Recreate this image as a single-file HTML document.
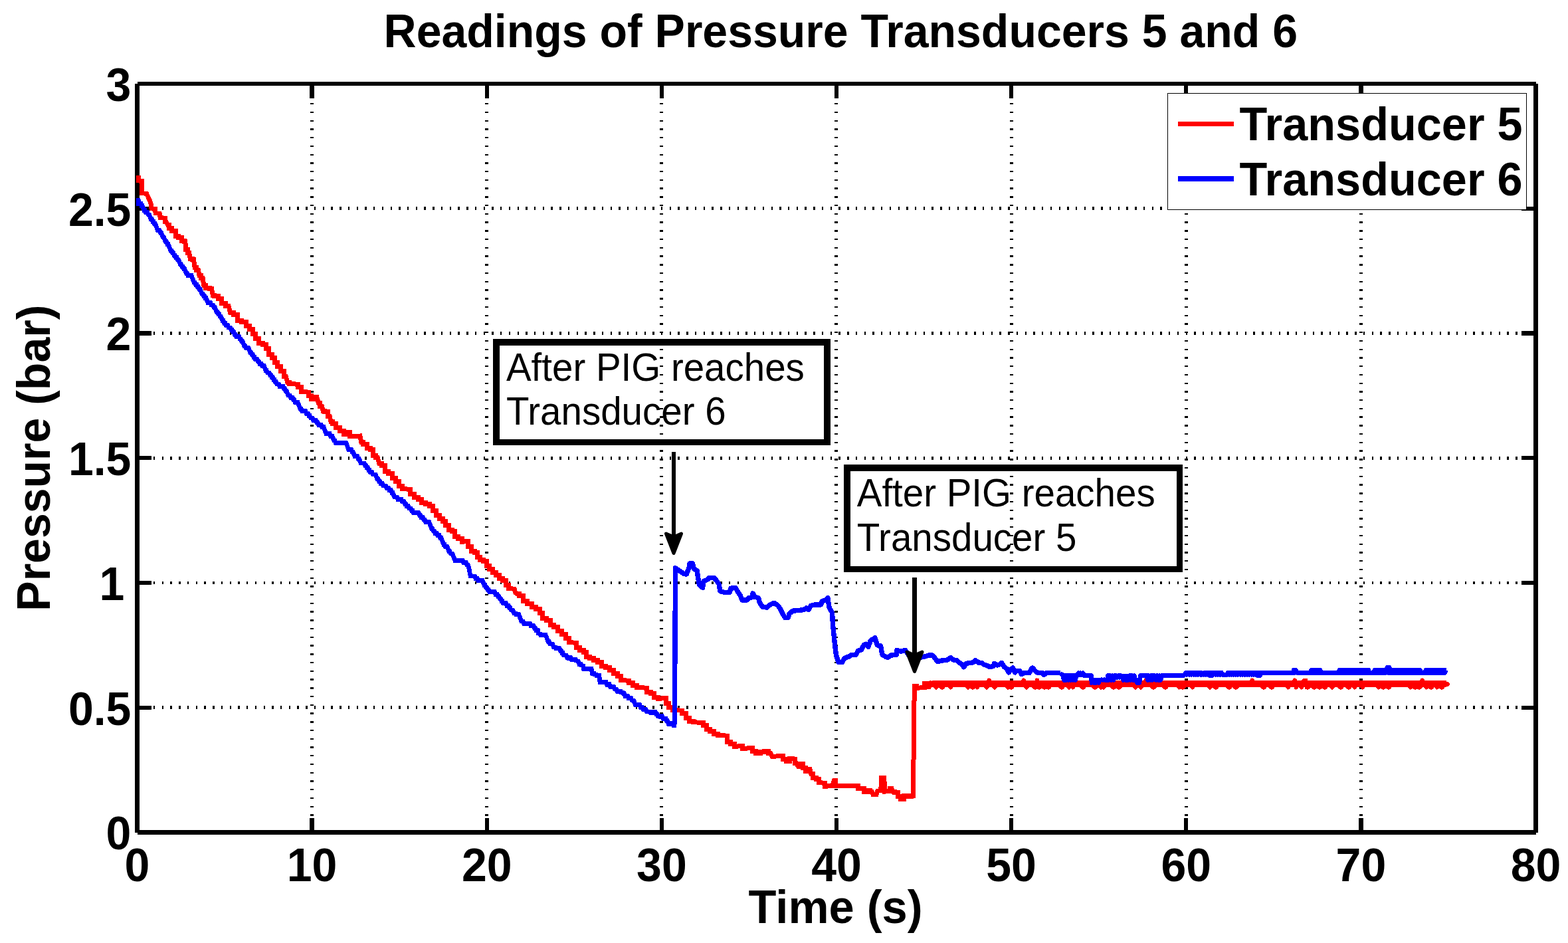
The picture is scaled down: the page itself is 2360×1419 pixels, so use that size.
<!DOCTYPE html>
<html lang="en"><head><meta charset="utf-8"><title>Readings of Pressure Transducers 5 and 6</title>
<style>html,body{margin:0;padding:0;background:#fff;}body{width:2360px;height:1419px;overflow:hidden;}svg{display:block;}text{font-family:'Liberation Sans', sans-serif;fill:#000;}.b{font-weight:bold;font-size:68px;}.n{font-size:56.5px;}</style></head><body>
<svg width="2360" height="1419" viewBox="0 0 2360 1419">
<rect x="0" y="0" width="2360" height="1419" fill="#fff"/>
<g stroke="#000" stroke-width="5" stroke-dasharray="2.4 10.34" fill="none" shape-rendering="crispEdges">
<line x1="469.50" y1="1253.13" x2="469.50" y2="126.0"/>
<line x1="732.50" y1="1253.13" x2="732.50" y2="126.0"/>
<line x1="995.50" y1="1253.13" x2="995.50" y2="126.0"/>
<line x1="1258.50" y1="1253.13" x2="1258.50" y2="126.0"/>
<line x1="1522.50" y1="1253.13" x2="1522.50" y2="126.0"/>
<line x1="1785.50" y1="1253.13" x2="1785.50" y2="126.0"/>
<line x1="2048.50" y1="1253.13" x2="2048.50" y2="126.0"/>
</g>
<g stroke="#000" stroke-width="5" stroke-dasharray="2.4 10.334" fill="none" shape-rendering="crispEdges">
<line x1="205.5" y1="1064.50" x2="2311.5" y2="1064.50"/>
<line x1="205.5" y1="877.00" x2="2311.5" y2="877.00" stroke-width="4"/>
<line x1="205.5" y1="689.50" x2="2311.5" y2="689.50"/>
<line x1="205.5" y1="501.50" x2="2311.5" y2="501.50"/>
<line x1="205.5" y1="313.50" x2="2311.5" y2="313.50"/>
</g>
<g stroke="#000" stroke-width="6.4" fill="none" shape-rendering="crispEdges">
<line x1="469.62" y1="1252.5" x2="469.62" y2="1231.0"/>
<line x1="469.62" y1="126.0" x2="469.62" y2="147.5"/>
<line x1="732.75" y1="1252.5" x2="732.75" y2="1231.0"/>
<line x1="732.75" y1="126.0" x2="732.75" y2="147.5"/>
<line x1="995.88" y1="1252.5" x2="995.88" y2="1231.0"/>
<line x1="995.88" y1="126.0" x2="995.88" y2="147.5"/>
<line x1="1259.00" y1="1252.5" x2="1259.00" y2="1231.0"/>
<line x1="1259.00" y1="126.0" x2="1259.00" y2="147.5"/>
<line x1="1522.12" y1="1252.5" x2="1522.12" y2="1231.0"/>
<line x1="1522.12" y1="126.0" x2="1522.12" y2="147.5"/>
<line x1="1785.25" y1="1252.5" x2="1785.25" y2="1231.0"/>
<line x1="1785.25" y1="126.0" x2="1785.25" y2="147.5"/>
<line x1="2048.38" y1="1252.5" x2="2048.38" y2="1231.0"/>
<line x1="2048.38" y1="126.0" x2="2048.38" y2="147.5"/>
<line x1="206.5" y1="1064.75" x2="228.0" y2="1064.75"/>
<line x1="2311.5" y1="1064.75" x2="2290.0" y2="1064.75"/>
<line x1="206.5" y1="877.00" x2="228.0" y2="877.00"/>
<line x1="2311.5" y1="877.00" x2="2290.0" y2="877.00"/>
<line x1="206.5" y1="689.25" x2="228.0" y2="689.25"/>
<line x1="2311.5" y1="689.25" x2="2290.0" y2="689.25"/>
<line x1="206.5" y1="501.50" x2="228.0" y2="501.50"/>
<line x1="2311.5" y1="501.50" x2="2290.0" y2="501.50"/>
<line x1="206.5" y1="313.75" x2="228.0" y2="313.75"/>
<line x1="2311.5" y1="313.75" x2="2290.0" y2="313.75"/>
</g>
<path d="M206.5,126.0H2311.5M2311.5,126.0V1252.5M2311.5,1252.5H206.5M206.5,1252.5V126.0" fill="none" stroke="#000" stroke-width="6.8" stroke-linecap="butt" shape-rendering="crispEdges"/>
<path d="M208.0,263.7 L208.0,271.9 L213.1,272.5 L213.4,290.8 L220.5,291.2 L223.2,296.9 L225.9,303.1 L227.6,307.8 L228.0,313.9 L233.4,314.6 L234.1,320.7 L240.2,321.4 L241.2,327.5 L246.3,328.1 L248.0,328.1 L248.0,333.6 L249.7,333.6 L252.5,338.3 L254.2,338.3 L254.2,343.4 L255.9,343.4 L258.9,343.4 L258.9,347.6 L261.9,347.6 L264.0,347.6 L264.0,355.3 L266.1,355.3 L268.6,355.3 L268.6,357.8 L271.2,357.8 L273.3,357.8 L273.3,362.0 L275.4,362.0 L277.1,362.0 L277.1,363.7 L278.8,363.7 L279.7,375.6 L282.2,375.6 L282.2,380.7 L284.7,380.7 L286.4,389.2 L289.0,389.2 L289.0,390.8 L291.5,390.8 L293.2,402.7 L295.8,402.7 L295.8,406.1 L298.3,406.1 L300.0,414.6 L302.5,414.6 L302.5,418.0 L305.1,418.0 L306.8,429.8 L309.3,429.8 L309.3,433.2 L311.9,433.2 L315.3,433.2 L315.3,434.9 L318.6,434.9 L320.3,444.2 L322.9,444.2 L322.9,445.9 L325.4,445.9 L328.8,445.9 L328.8,449.3 L332.2,449.3 L333.9,449.3 L333.9,456.9 L335.6,456.9 L339.8,456.9 L339.8,460.3 L344.1,460.3 L346.6,470.5 L347.1,470.5 L351.4,470.5 L351.4,473.1 L355.6,473.1 L357.7,473.1 L357.7,482.4 L359.8,482.4 L363.6,482.4 L363.6,484.9 L367.5,484.9 L370.0,484.9 L370.0,490.8 L372.5,490.8 L375.1,490.8 L375.1,495.9 L377.6,495.9 L380.2,495.9 L380.2,502.7 L382.7,502.7 L384.8,502.7 L384.8,509.5 L386.9,509.5 L389.9,509.5 L389.9,516.3 L392.9,516.3 L395.4,516.3 L395.4,518.0 L398.0,518.0 L400.5,518.0 L400.5,524.7 L403.1,524.7 L404.7,524.7 L404.7,533.2 L406.4,533.2 L409.0,533.2 L409.0,538.3 L411.5,538.3 L413.2,538.3 L413.2,545.1 L414.9,545.1 L417.5,545.1 L417.5,551.9 L420.0,551.9 L422.5,551.9 L422.5,558.6 L425.1,558.6 L427.6,558.6 L427.6,566.3 L430.2,566.3 L432.7,575.6 L435.7,575.6 L435.7,577.3 L438.6,577.3 L445.4,578.1 L448.0,578.1 L448.0,582.4 L450.5,582.4 L453.1,582.4 L453.1,589.2 L455.6,589.2 L463.2,590.0 L464.9,590.0 L464.9,595.9 L466.6,595.9 L468.7,595.9 L468.7,600.2 L470.8,600.2 L473.8,600.2 L473.8,597.6 L476.8,597.6 L479.3,606.1 L481.9,606.1 L481.9,611.2 L484.4,611.2 L486.1,618.0 L488.6,618.0 L488.6,619.7 L491.2,619.7 L493.7,619.7 L493.7,626.4 L496.3,626.4 L498.0,634.9 L500.5,634.9 L500.5,637.5 L503.1,637.5 L505.6,637.5 L505.6,643.4 L508.1,643.4 L511.5,643.4 L511.5,648.5 L514.9,648.5 L517.5,648.5 L517.5,653.6 L520.0,653.6 L522.1,653.6 L522.1,650.2 L524.2,650.2 L526.4,650.2 L526.4,656.9 L528.5,656.9 L536.9,656.9 L542.0,656.1 L543.7,665.4 L546.7,665.4 L546.7,668.8 L549.7,668.8 L552.6,668.8 L552.6,674.7 L555.6,674.7 L557.3,674.7 L557.3,676.9 L559.0,676.9 L561.1,676.9 L561.1,685.4 L563.2,685.4 L565.8,685.4 L565.8,688.8 L568.3,688.8 L570.8,697.3 L574.2,697.3 L574.2,700.7 L577.6,700.7 L579.3,700.7 L579.3,709.2 L581.0,709.2 L584.4,709.2 L584.4,712.5 L587.8,712.5 L590.3,712.5 L590.3,719.3 L592.9,719.3 L595.4,719.3 L595.4,724.4 L598.0,724.4 L600.5,724.4 L600.5,731.2 L603.1,731.2 L605.6,731.2 L605.6,735.4 L608.1,735.4 L614.9,736.3 L617.5,736.3 L617.5,743.1 L620.0,743.1 L623.4,743.1 L623.4,748.1 L626.8,748.1 L629.3,748.1 L629.3,751.5 L631.9,751.5 L634.4,751.5 L634.4,756.6 L636.9,756.6 L640.3,756.6 L640.3,758.3 L643.7,758.3 L646.3,758.3 L646.3,761.7 L648.8,761.7 L651.4,761.7 L651.4,768.5 L653.9,768.5 L656.0,768.5 L656.0,775.3 L658.1,775.3 L661.1,775.3 L661.1,780.3 L664.1,780.3 L666.6,780.3 L666.6,784.6 L669.2,784.6 L670.8,784.6 L670.8,790.5 L672.5,790.5 L675.1,790.5 L675.1,797.3 L677.6,797.3 L680.2,797.3 L680.2,799.0 L682.7,799.0 L684.4,799.0 L684.4,807.5 L686.1,807.5 L689.5,807.5 L689.5,810.0 L692.9,810.0 L695.4,810.0 L695.4,815.1 L698.0,815.1 L703.1,814.2 L704.7,814.2 L704.7,822.7 L706.4,822.7 L709.0,822.7 L709.0,829.5 L711.5,829.5 L714.1,829.5 L714.1,831.2 L716.6,831.2 L718.3,831.2 L718.3,838.0 L720.0,838.0 L722.5,838.0 L722.5,842.2 L725.1,842.2 L727.6,842.2 L727.6,844.7 L730.2,844.7 L732.7,844.7 L732.7,851.5 L735.3,851.5 L736.9,851.5 L736.9,856.6 L738.6,856.6 L741.2,856.6 L741.2,861.7 L743.7,861.7 L746.3,861.7 L746.3,865.1 L748.8,865.1 L751.4,865.1 L751.4,870.2 L753.9,870.2 L756.4,870.2 L756.4,873.6 L759.0,873.6 L761.1,873.6 L761.1,880.3 L763.2,880.3 L765.3,880.3 L765.3,885.4 L767.5,885.4 L774.2,886.3 L775.9,892.2 L778.1,893.6 L781.5,893.6 L781.5,896.9 L784.9,896.9 L787.0,896.9 L787.0,904.6 L789.2,904.6 L793.4,904.6 L793.4,908.0 L797.6,908.0 L800.2,908.0 L800.2,913.9 L802.7,913.9 L806.1,913.9 L806.1,916.4 L809.5,916.4 L812.0,916.4 L812.0,922.4 L814.6,922.4 L816.3,922.4 L816.3,930.0 L818.0,930.0 L822.2,930.0 L822.2,933.4 L826.4,933.4 L828.1,933.4 L828.1,940.2 L829.8,940.2 L833.2,940.2 L833.2,943.6 L836.6,943.6 L839.2,943.6 L839.2,949.5 L841.7,949.5 L845.1,949.5 L845.1,954.6 L848.5,954.6 L851.0,954.6 L851.0,960.5 L853.6,960.5 L856.1,960.5 L856.1,966.4 L858.6,966.4 L865.4,967.3 L867.5,967.3 L867.5,974.9 L869.7,974.9 L872.6,974.9 L872.6,978.3 L875.6,978.3 L878.1,978.3 L878.1,981.7 L880.7,981.7 L882.4,981.7 L882.4,988.5 L884.1,988.5 L887.5,988.5 L887.5,990.2 L890.8,990.2 L893.4,990.2 L893.4,993.6 L895.9,993.6 L899.3,993.6 L899.3,996.9 L902.7,996.9 L905.3,996.9 L905.3,1002.0 L907.8,1002.0 L911.2,1002.0 L911.2,1004.6 L914.6,1004.6 L917.1,1004.6 L917.1,1008.8 L919.7,1008.8 L923.1,1008.8 L923.1,1013.1 L926.4,1013.1 L929.8,1013.1 L929.8,1017.3 L933.2,1017.3 L934.9,1017.3 L934.9,1023.2 L936.6,1023.2 L943.4,1024.1 L946.8,1024.1 L946.8,1027.5 L950.2,1027.5 L952.7,1027.5 L952.7,1031.7 L955.3,1031.7 L958.6,1031.7 L958.6,1034.2 L962.0,1034.2 L970.5,1035.1 L973.1,1035.1 L973.1,1041.9 L975.6,1041.9 L979.0,1041.9 L979.0,1043.6 L982.4,1043.6 L984.9,1043.6 L984.9,1049.5 L987.5,1049.5 L990.8,1049.5 L990.8,1051.2 L994.2,1051.2 L1001.0,1050.3 L1002.7,1050.3 L1002.7,1058.0 L1004.4,1058.0 L1006.9,1058.0 L1006.9,1064.7 L1009.5,1064.7 L1012.0,1064.7 L1012.0,1068.1 L1014.6,1068.1 L1023.1,1069.0 L1026.4,1069.0 L1026.4,1073.2 L1029.8,1073.2 L1032.4,1073.2 L1032.4,1080.0 L1034.9,1080.0 L1037.5,1080.0 L1037.5,1085.1 L1040.0,1085.1 L1043.4,1085.1 L1043.4,1086.8 L1046.8,1086.8 L1055.3,1087.6 L1058.6,1087.6 L1058.6,1091.9 L1062.0,1091.9 L1063.7,1091.9 L1063.7,1097.8 L1065.4,1097.8 L1068.8,1097.8 L1068.8,1100.3 L1072.2,1100.3 L1074.7,1100.3 L1074.7,1104.6 L1077.3,1104.6 L1080.7,1104.6 L1080.7,1106.3 L1084.1,1106.3 L1092.5,1107.1 L1094.7,1107.1 L1094.7,1116.6 L1096.9,1116.6 L1099.5,1116.6 L1099.5,1119.2 L1102.0,1119.2 L1105.0,1119.2 L1105.0,1123.4 L1108.0,1123.4 L1113.9,1122.5 L1117.3,1122.5 L1117.3,1126.8 L1120.7,1126.8 L1124.9,1125.9 L1130.8,1125.9 L1132.5,1125.9 L1132.5,1130.2 L1134.2,1130.2 L1137.6,1130.2 L1137.6,1133.6 L1141.0,1133.6 L1144.4,1133.6 L1144.4,1131.9 L1147.8,1131.9 L1150.8,1131.9 L1150.8,1130.2 L1153.7,1130.2 L1156.7,1130.2 L1156.7,1133.6 L1159.7,1133.6 L1162.2,1138.6 L1169.8,1137.8 L1176.6,1137.8 L1178.3,1137.8 L1178.3,1142.0 L1180.0,1142.0 L1183.4,1142.0 L1183.4,1145.4 L1186.8,1145.4 L1188.5,1145.4 L1188.5,1141.2 L1190.2,1141.2 L1195.3,1142.0 L1196.9,1142.0 L1196.9,1148.8 L1198.6,1148.8 L1201.2,1153.1 L1203.3,1153.1 L1203.3,1149.7 L1205.4,1149.7 L1208.0,1149.7 L1208.0,1155.6 L1210.5,1155.6 L1212.2,1155.6 L1212.2,1160.7 L1213.9,1160.7 L1216.4,1160.7 L1216.4,1157.3 L1219.0,1157.3 L1220.7,1164.1 L1223.2,1164.1 L1223.2,1170.8 L1225.8,1170.8 L1228.3,1170.8 L1228.3,1172.5 L1230.8,1172.5 L1232.5,1172.5 L1232.5,1177.6 L1234.2,1177.6 L1241.0,1178.5 L1241.0,1183.6 L1247.8,1182.7 L1252.9,1182.7 L1255.4,1174.2 L1257.1,1174.2 L1257.1,1182.7 L1258.8,1182.7 L1266.4,1182.7 L1274.9,1182.7 L1283.4,1182.7 L1290.2,1182.7 L1291.9,1182.7 L1291.9,1186.9 L1293.6,1186.9 L1300.3,1186.9 L1300.3,1191.2 L1303.7,1191.2 L1303.7,1189.5 L1307.1,1189.5 L1309.7,1189.5 L1309.7,1191.2 L1312.2,1191.2 L1313.9,1195.4 L1319.0,1195.4 L1320.7,1190.3 L1325.8,1189.5 L1326.6,1170.8 L1330.8,1170.8 L1331.7,1191.2 L1337.6,1190.3 L1339.7,1190.3 L1339.7,1186.1 L1341.9,1186.1 L1344.4,1191.2 L1346.9,1191.2 L1346.9,1192.9 L1349.5,1192.9 L1351.2,1192.9 L1351.2,1198.0 L1352.9,1198.0 L1355.4,1198.0 L1355.4,1202.2 L1358.0,1202.2 L1360.1,1202.2 L1360.1,1197.1 L1362.2,1197.1 L1365.2,1197.1 L1365.2,1198.8 L1368.1,1198.8 L1371.1,1198.8 L1371.1,1197.1 L1374.1,1197.1 L1374.6,1172.5 L1375.3,1121.7 L1375.8,1070.8 L1376.3,1032.7 L1379.0,1032.7 L1379.0,1035.3 L1381.7,1035.3 L1388.5,1034.4 L1391.0,1034.4 L1391.0,1028.5 L1393.6,1028.5 L1396.1,1028.5 L1396.1,1033.6 L1398.6,1033.6" fill="none" stroke="#f00" stroke-width="7" stroke-linejoin="miter" stroke-miterlimit="2" stroke-linecap="butt" shape-rendering="crispEdges"/>
<path d="M1398.6,1033.6 L1401.0,1027.7 L1403.0,1030.8 L1405.0,1027.7 L1407.0,1030.8 L1409.0,1034.0 L1411.0,1030.8 L1413.0,1027.7 L1415.0,1030.8 L1417.0,1034.0 L1419.0,1034.0 L1421.0,1027.7 L1423.0,1030.8 L1425.0,1027.7 L1427.0,1030.8 L1429.0,1027.7 L1431.0,1034.0 L1433.0,1027.7 L1435.0,1030.8 L1437.0,1027.7 L1439.0,1030.8 L1441.0,1027.7 L1443.0,1030.8 L1445.0,1027.7 L1447.0,1030.8 L1449.0,1027.7 L1451.0,1030.8 L1453.0,1027.7 L1455.0,1030.8 L1457.0,1034.0 L1459.0,1030.8 L1461.0,1027.7 L1463.0,1034.0 L1465.0,1034.0 L1467.0,1030.8 L1469.0,1027.7 L1471.0,1034.0 L1473.0,1027.7 L1475.0,1030.8 L1477.0,1027.7 L1479.0,1030.8 L1481.0,1027.7 L1483.0,1030.8 L1485.0,1034.0 L1487.0,1030.8 L1489.0,1024.0 L1491.0,1030.8 L1493.0,1027.7 L1495.0,1030.8 L1497.0,1034.0 L1499.0,1030.8 L1501.0,1027.7 L1503.0,1030.8 L1505.0,1027.7 L1507.0,1030.8 L1509.0,1027.7 L1511.0,1030.8 L1513.0,1027.7 L1515.0,1030.8 L1517.0,1034.0 L1519.0,1030.8 L1521.0,1034.0 L1523.0,1034.0 L1525.0,1027.7 L1527.0,1030.8 L1529.0,1027.7 L1531.0,1030.8 L1533.0,1027.7 L1535.0,1030.8 L1537.0,1027.7 L1539.0,1030.8 L1541.0,1024.0 L1543.0,1030.8 L1545.0,1034.0 L1547.0,1030.8 L1549.0,1027.7 L1551.0,1030.8 L1553.0,1027.7 L1555.0,1030.8 L1557.0,1034.0 L1559.0,1034.0 L1561.0,1024.0 L1563.0,1034.0 L1565.0,1034.0 L1567.0,1030.8 L1569.0,1027.7 L1571.0,1034.0 L1573.0,1034.0 L1575.0,1030.8 L1577.0,1034.0 L1579.0,1034.0 L1581.0,1027.7 L1583.0,1030.8 L1585.0,1027.7 L1587.0,1030.8 L1589.0,1027.7 L1591.0,1030.8 L1593.0,1027.7 L1595.0,1030.8 L1597.0,1034.0 L1599.0,1034.0 L1601.0,1027.7 L1603.0,1030.8 L1605.0,1027.7 L1607.0,1030.8 L1609.0,1034.0 L1611.0,1030.8 L1613.0,1027.7 L1615.0,1034.0 L1617.0,1027.7 L1619.0,1030.8 L1621.0,1027.7 L1623.0,1030.8 L1625.0,1027.7 L1627.0,1030.8 L1629.0,1034.0 L1631.0,1034.0 L1633.0,1027.7 L1635.0,1030.8 L1637.0,1027.7 L1639.0,1030.8 L1641.0,1027.7 L1643.0,1030.8 L1645.0,1027.7 L1647.0,1034.0 L1649.0,1034.0 L1651.0,1030.8 L1653.0,1027.7 L1655.0,1030.8 L1657.0,1034.0 L1659.0,1030.8 L1661.0,1034.0 L1663.0,1030.8 L1665.0,1027.7 L1667.0,1030.8 L1669.0,1027.7 L1671.0,1030.8 L1673.0,1027.7 L1675.0,1034.0 L1677.0,1034.0 L1679.0,1030.8 L1681.0,1027.7 L1683.0,1034.0 L1685.0,1034.0 L1687.0,1030.8 L1689.0,1027.7 L1691.0,1030.8 L1693.0,1027.7 L1695.0,1030.8 L1697.0,1027.7 L1699.0,1030.8 L1701.0,1027.7 L1703.0,1030.8 L1705.0,1027.7 L1707.0,1030.8 L1709.0,1034.0 L1711.0,1030.8 L1713.0,1027.7 L1715.0,1030.8 L1717.0,1034.0 L1719.0,1030.8 L1721.0,1027.7 L1723.0,1030.8 L1725.0,1024.0 L1727.0,1030.8 L1729.0,1027.7 L1731.0,1030.8 L1733.0,1027.7 L1735.0,1034.0 L1737.0,1034.0 L1739.0,1030.8 L1741.0,1027.7 L1743.0,1030.8 L1745.0,1027.7 L1747.0,1030.8 L1749.0,1027.7 L1751.0,1030.8 L1753.0,1034.0 L1755.0,1034.0 L1757.0,1027.7 L1759.0,1030.8 L1761.0,1027.7 L1763.0,1030.8 L1765.0,1027.7 L1767.0,1030.8 L1769.0,1027.7 L1771.0,1030.8 L1773.0,1027.7 L1775.0,1034.0 L1777.0,1027.7 L1779.0,1034.0 L1781.0,1034.0 L1783.0,1030.8 L1785.0,1027.7 L1787.0,1030.8 L1789.0,1027.7 L1791.0,1030.8 L1793.0,1027.7 L1795.0,1034.0 L1797.0,1027.7 L1799.0,1030.8 L1801.0,1027.7 L1803.0,1030.8 L1805.0,1027.7 L1807.0,1030.8 L1809.0,1027.7 L1811.0,1030.8 L1813.0,1027.7 L1815.0,1030.8 L1817.0,1027.7 L1819.0,1030.8 L1821.0,1034.0 L1823.0,1030.8 L1825.0,1027.7 L1827.0,1030.8 L1829.0,1034.0 L1831.0,1034.0 L1833.0,1027.7 L1835.0,1030.8 L1837.0,1027.7 L1839.0,1030.8 L1841.0,1027.7 L1843.0,1030.8 L1845.0,1027.7 L1847.0,1030.8 L1849.0,1034.0 L1851.0,1034.0 L1853.0,1027.7 L1855.0,1030.8 L1857.0,1027.7 L1859.0,1034.0 L1861.0,1034.0 L1863.0,1030.8 L1865.0,1027.7 L1867.0,1030.8 L1869.0,1027.7 L1871.0,1030.8 L1873.0,1027.7 L1875.0,1030.8 L1877.0,1027.7 L1879.0,1030.8 L1881.0,1027.7 L1883.0,1030.8 L1885.0,1024.0 L1887.0,1030.8 L1889.0,1027.7 L1891.0,1030.8 L1893.0,1027.7 L1895.0,1030.8 L1897.0,1027.7 L1899.0,1030.8 L1901.0,1034.0 L1903.0,1034.0 L1905.0,1027.7 L1907.0,1030.8 L1909.0,1027.7 L1911.0,1030.8 L1913.0,1034.0 L1915.0,1034.0 L1917.0,1027.7 L1919.0,1030.8 L1921.0,1027.7 L1923.0,1030.8 L1925.0,1027.7 L1927.0,1030.8 L1929.0,1027.7 L1931.0,1030.8 L1933.0,1027.7 L1935.0,1030.8 L1937.0,1027.7 L1939.0,1034.0 L1941.0,1027.7 L1943.0,1030.8 L1945.0,1027.7 L1947.0,1030.8 L1949.0,1024.0 L1951.0,1034.0 L1953.0,1027.7 L1955.0,1030.8 L1957.0,1027.7 L1959.0,1034.0 L1961.0,1027.7 L1963.0,1024.0 L1965.0,1024.0 L1967.0,1034.0 L1969.0,1034.0 L1971.0,1030.8 L1973.0,1027.7 L1975.0,1030.8 L1977.0,1034.0 L1979.0,1034.0 L1981.0,1027.7 L1983.0,1030.8 L1985.0,1034.0 L1987.0,1034.0 L1989.0,1027.7 L1991.0,1030.8 L1993.0,1034.0 L1995.0,1034.0 L1997.0,1027.7 L1999.0,1030.8 L2001.0,1027.7 L2003.0,1030.8 L2005.0,1034.0 L2007.0,1030.8 L2009.0,1027.7 L2011.0,1030.8 L2013.0,1027.7 L2015.0,1030.8 L2017.0,1034.0 L2019.0,1034.0 L2021.0,1027.7 L2023.0,1030.8 L2025.0,1027.7 L2027.0,1030.8 L2029.0,1034.0 L2031.0,1034.0 L2033.0,1027.7 L2035.0,1030.8 L2037.0,1027.7 L2039.0,1034.0 L2041.0,1027.7 L2043.0,1030.8 L2045.0,1027.7 L2047.0,1030.8 L2049.0,1027.7 L2051.0,1034.0 L2053.0,1027.7 L2055.0,1030.8 L2057.0,1027.7 L2059.0,1030.8 L2061.0,1027.7 L2063.0,1030.8 L2065.0,1027.7 L2067.0,1030.8 L2069.0,1027.7 L2071.0,1030.8 L2073.0,1027.7 L2075.0,1034.0 L2077.0,1027.7 L2079.0,1030.8 L2081.0,1034.0 L2083.0,1034.0 L2085.0,1027.7 L2087.0,1030.8 L2089.0,1034.0 L2091.0,1034.0 L2093.0,1027.7 L2095.0,1030.8 L2097.0,1027.7 L2099.0,1030.8 L2101.0,1027.7 L2103.0,1030.8 L2105.0,1027.7 L2107.0,1030.8 L2109.0,1027.7 L2111.0,1030.8 L2113.0,1027.7 L2115.0,1030.8 L2117.0,1027.7 L2119.0,1030.8 L2121.0,1027.7 L2123.0,1034.0 L2125.0,1027.7 L2127.0,1030.8 L2129.0,1034.0 L2131.0,1034.0 L2133.0,1027.7 L2135.0,1034.0 L2137.0,1034.0 L2139.0,1030.8 L2141.0,1024.0 L2143.0,1030.8 L2145.0,1027.7 L2147.0,1034.0 L2149.0,1027.7 L2151.0,1030.8 L2153.0,1034.0 L2155.0,1034.0 L2157.0,1027.7 L2159.0,1030.8 L2161.0,1027.7 L2163.0,1034.0 L2165.0,1027.7 L2167.0,1030.8 L2169.0,1034.0 L2171.0,1034.0 L2173.0,1027.7 L2175.0,1030.8 L2178.2,1029.3" fill="none" stroke="#f00" stroke-width="7" stroke-linejoin="round" stroke-linecap="round" shape-rendering="crispEdges"/>
<path d="M1404,1027.8 H2177.0" fill="none" stroke="#f00" stroke-width="7" stroke-linecap="butt" shape-rendering="crispEdges"/>
<path d="M207.6,302.6 L208.9,302.6 L210.2,306.0 L211.5,306.0 L212.8,309.4 L214.1,309.4 L215.4,312.8 L216.7,316.2 L218.0,316.2 L219.3,319.6 L221.9,319.6 L223.2,323.0 L224.5,323.0 L225.8,326.4 L227.1,329.8 L228.4,329.8 L229.7,333.2 L231.0,333.2 L232.3,336.6 L233.6,336.6 L234.9,340.0 L236.2,343.4 L237.5,346.8 L240.1,346.8 L241.4,350.2 L242.7,350.2 L244.0,353.6 L245.3,357.0 L246.6,357.0 L247.9,360.4 L249.2,363.8 L250.5,363.8 L251.8,367.2 L253.1,367.2 L254.4,370.6 L255.7,374.0 L257.0,377.4 L258.3,377.4 L259.6,380.8 L260.9,380.8 L262.2,384.2 L263.5,384.2 L264.8,387.6 L266.1,387.6 L267.4,391.0 L268.7,391.0 L270.0,394.4 L271.3,397.8 L272.6,397.8 L273.9,401.2 L275.2,401.2 L276.5,404.6 L277.8,404.6 L279.1,408.0 L280.4,411.4 L281.7,411.4 L283.0,414.8 L288.2,414.8 L289.5,418.2 L290.8,421.6 L292.1,425.0 L293.4,425.0 L294.7,428.4 L296.0,428.4 L297.3,431.8 L298.6,431.8 L299.9,435.2 L301.2,435.2 L302.5,438.6 L303.8,442.0 L305.1,442.0 L306.4,445.4 L307.7,445.4 L309.0,448.8 L310.3,448.8 L311.6,452.2 L312.9,455.6 L316.8,455.6 L318.1,459.0 L320.7,459.0 L322.0,462.4 L323.3,462.4 L324.6,465.8 L325.9,469.2 L327.2,469.2 L328.5,472.6 L329.8,472.6 L331.1,476.0 L332.4,476.0 L333.7,479.4 L335.0,482.8 L336.3,482.8 L337.6,486.2 L338.9,486.2 L340.2,489.6 L342.8,489.6 L344.1,493.0 L346.7,493.0 L348.0,496.4 L349.3,496.4 L350.6,499.8 L351.9,499.8 L353.2,503.2 L354.5,503.2 L355.8,506.6 L359.7,506.6 L361.0,510.0 L362.3,510.0 L363.6,513.4 L364.9,513.4 L366.2,516.8 L367.5,520.2 L368.8,520.2 L370.1,523.6 L374.0,523.6 L375.3,527.0 L376.6,530.4 L377.9,530.4 L379.2,533.8 L380.5,533.8 L381.8,537.2 L383.1,537.2 L384.4,540.6 L387.0,540.6 L388.3,544.0 L389.6,544.0 L390.9,547.4 L393.5,547.4 L394.8,550.8 L397.4,550.8 L398.7,554.2 L400.0,557.6 L401.3,557.6 L402.6,561.0 L405.2,561.0 L406.5,564.4 L407.8,564.4 L409.1,567.8 L410.4,567.8 L411.7,571.2 L413.0,571.2 L414.3,574.6 L415.6,574.6 L416.9,578.0 L419.5,578.0 L420.8,581.4 L426.0,581.4 L427.3,584.8 L428.6,584.8 L429.9,588.2 L431.2,588.2 L432.5,591.6 L433.8,595.0 L436.4,595.0 L437.7,598.4 L440.3,598.4 L441.6,601.8 L442.9,601.8 L444.2,605.2 L448.1,605.2 L449.4,608.6 L450.7,612.0 L452.0,615.4 L453.3,615.4 L454.6,618.8 L459.8,618.8 L461.1,622.2 L463.7,622.2 L465.0,625.6 L466.3,625.6 L467.6,629.0 L470.2,629.0 L471.5,632.4 L475.4,632.4 L476.7,635.8 L478.0,635.8 L479.3,639.2 L483.2,639.2 L484.5,642.6 L487.1,642.6 L488.4,646.0 L489.7,649.4 L491.0,652.8 L496.2,652.8 L497.5,656.2 L500.1,656.2 L501.4,659.6 L502.7,663.0 L504.0,663.0 L505.3,666.4 L520.9,666.4 L522.2,669.8 L523.5,673.2 L524.8,676.6 L528.7,676.6 L530.0,680.0 L531.3,680.0 L532.6,683.4 L533.9,686.8 L537.8,686.8 L539.1,690.2 L540.4,690.2 L541.7,693.6 L543.0,697.0 L548.2,697.0 L549.5,700.4 L550.8,700.4 L552.1,703.8 L553.4,703.8 L554.7,707.2 L556.0,707.2 L557.3,710.6 L559.9,710.6 L561.2,714.0 L565.1,714.0 L566.4,717.4 L567.7,720.8 L569.0,720.8 L570.3,724.2 L571.6,724.2 L572.9,727.6 L575.5,727.6 L576.8,731.0 L580.7,731.0 L582.0,734.4 L584.6,734.4 L585.9,737.8 L588.5,737.8 L589.8,741.2 L591.1,741.2 L592.4,744.6 L593.7,748.0 L597.6,748.0 L598.9,751.4 L604.1,751.4 L605.4,754.8 L608.0,754.8 L609.3,758.2 L610.6,758.2 L611.9,761.6 L614.5,761.6 L615.8,765.0 L618.4,765.0 L619.7,768.4 L621.0,768.4 L622.3,771.8 L630.1,771.8 L631.4,775.2 L632.7,775.2 L634.0,778.6 L636.6,778.6 L637.9,782.0 L639.2,782.0 L640.5,785.4 L645.7,785.4 L647.0,788.8 L648.3,792.2 L649.6,795.6 L650.9,795.6 L652.2,799.0 L653.5,799.0 L654.8,802.4 L657.4,802.4 L658.7,805.8 L661.3,805.8 L662.6,809.2 L663.9,809.2 L665.2,812.6 L666.5,816.0 L667.8,819.4 L669.1,819.4 L670.4,822.8 L673.0,822.8 L674.3,826.2 L675.6,829.6 L676.9,829.6 L678.2,833.0 L680.8,833.0 L682.1,836.4 L683.4,839.8 L684.7,843.2 L696.4,843.2 L697.7,846.6 L701.6,846.6 L702.9,850.0 L704.2,850.0 L705.5,853.4 L706.8,860.2 L708.1,867.0 L714.6,867.0 L715.9,870.4 L718.5,870.4 L719.8,873.8 L726.3,873.8 L727.6,877.2 L728.9,880.6 L730.2,880.6 L731.5,884.0 L732.8,884.0 L734.1,887.4 L735.4,887.4 L736.7,890.8 L744.5,890.8 L745.8,894.2 L748.4,894.2 L749.7,897.6 L751.0,897.6 L752.3,901.0 L753.6,901.0 L754.9,904.4 L756.2,904.4 L757.5,907.8 L761.4,907.8 L762.7,911.2 L765.3,911.2 L766.6,914.6 L767.9,914.6 L769.2,918.0 L771.8,918.0 L773.1,921.4 L774.4,924.8 L775.7,921.4 L777.0,924.8 L780.9,924.8 L782.2,928.2 L783.5,931.6 L784.8,935.0 L787.4,935.0 L788.7,938.4 L797.8,938.4 L799.1,941.8 L803.0,941.8 L804.3,945.2 L805.6,945.2 L806.9,948.6 L809.5,948.6 L810.8,955.4 L812.1,952.0 L813.4,955.4 L821.2,955.4 L822.5,958.8 L823.8,962.2 L825.1,965.6 L826.4,965.6 L827.7,969.0 L831.6,969.0 L832.9,972.4 L834.2,975.8 L835.5,972.4 L836.8,975.8 L842.0,975.8 L843.3,979.2 L844.6,979.2 L845.9,982.6 L847.2,982.6 L848.5,986.0 L852.4,986.0 L853.7,989.4 L855.0,989.4 L856.3,992.8 L857.6,989.4 L858.9,989.4 L860.2,992.8 L866.7,992.8 L868.0,996.2 L869.3,992.8 L870.6,996.2 L871.9,999.6 L874.5,999.6 L875.8,1003.0 L877.1,999.6 L878.4,1006.4 L890.1,1006.4 L891.4,1013.2 L894.0,1013.2 L895.3,1016.6 L896.6,1013.2 L897.9,1016.6 L901.8,1016.6 L903.1,1026.8 L912.2,1026.8 L913.5,1030.2 L914.8,1030.2 L916.1,1026.8 L917.4,1030.2 L918.7,1033.6 L923.9,1033.6 L925.2,1037.0 L927.8,1037.0 L929.1,1040.4 L934.3,1040.4 L935.6,1043.8 L936.9,1040.4 L938.2,1043.8 L939.5,1043.8 L940.8,1047.2 L944.7,1047.2 L946.0,1050.6 L949.9,1050.6 L951.2,1054.0 L953.8,1054.0 L955.1,1057.4 L956.4,1060.8 L962.9,1060.8 L964.2,1064.2 L966.8,1064.2 L968.1,1067.6 L972.0,1067.6 L973.3,1071.0 L978.5,1071.0 L979.8,1074.4 L981.1,1071.0 L982.4,1074.4 L983.7,1071.0 L986.3,1071.0 L987.6,1074.4 L988.9,1074.4 L990.2,1077.8 L992.8,1077.8 L994.1,1081.2 L995.4,1077.8 L996.7,1077.8 L998.0,1081.2 L1001.9,1081.2 L1003.2,1084.6 L1004.5,1084.6 L1005.8,1088.0 L1007.1,1091.4 L1008.4,1088.0 L1009.7,1088.0 L1011.0,1091.4 L1012.3,1088.0 L1013.6,1091.4 L1014.9,1091.4 L1015.4,1088.0" fill="none" stroke="#00f" stroke-width="6.8" stroke-linejoin="miter" stroke-miterlimit="2" stroke-linecap="butt" shape-rendering="crispEdges"/>
<path d="M208,298 V306.4 H215" fill="none" stroke="#00f" stroke-width="6.8" stroke-linejoin="miter" stroke-linecap="butt" shape-rendering="crispEdges"/>
<path d="M1015.4,1090.2 L1016.1,938.6 L1016.6,854.7 L1022.9,859.0 L1028.8,863.2 L1033.1,864.1 L1037.3,853.9 L1038.1,848.0 L1042.4,848.0 L1044.1,855.6 L1049.2,859.0 L1050.8,870.8 L1052.5,880.2 L1057.6,884.4 L1059.3,874.2 L1064.4,872.5 L1067.8,869.2 L1074.6,869.2 L1078.8,874.2 L1082.2,879.3 L1083.9,889.5 L1089.8,891.2 L1098.3,891.2 L1100.0,885.3 L1106.8,884.4 L1111.0,891.2 L1114.4,896.3 L1116.9,903.1 L1123.7,903.1 L1127.1,899.7 L1132.2,898.8 L1133.1,892.9 L1135.6,898.0 L1141.5,899.7 L1143.2,906.4 L1147.5,913.2 L1154.2,914.1 L1159.3,909.8 L1165.3,907.3 L1171.2,911.5 L1174.6,916.6 L1178.0,923.4 L1181.4,929.3 L1186.4,929.3 L1188.1,923.4 L1193.2,919.2 L1203.4,918.3 L1210.2,917.5 L1213.6,914.9 L1216.9,917.5 L1220.3,911.5 L1227.1,909.8 L1235.6,909.8 L1237.3,904.7 L1242.4,903.1 L1245.8,899.7 L1248.3,914.9 L1252.5,921.7 L1253.4,938.6 L1255.1,955.6 L1256.8,972.5 L1258.5,986.1 L1261.9,996.3 L1267.8,996.3 L1271.2,990.3 L1278.0,987.8 L1281.4,985.3 L1288.1,985.3 L1291.5,979.3 L1296.6,977.6 L1300.0,970.8 L1303.4,969.2 L1306.8,973.4 L1310.2,964.1 L1316.9,959.8 L1320.3,970.8 L1325.4,971.7 L1328.0,985.3 L1332.2,987.8 L1336.4,989.5 L1340.7,986.1 L1349.2,985.3 L1350.0,978.5 L1355.9,980.2 L1362.7,978.5 L1367.8,986.1 L1372.0,989.0 L1380.0,990.0 L1388.1,988.8 L1393.6,987.5 L1397.6,986.1 L1403.7,986.1 L1407.1,990.2 L1411.2,995.6 L1416.6,994.2 L1426.1,992.9 L1430.8,989.5 L1434.2,992.9 L1439.7,993.6 L1443.7,996.9 L1447.8,999.7 L1450.5,1003.7 L1454.6,998.3 L1464.1,996.9 L1468.1,993.6 L1472.2,996.9 L1477.6,997.6 L1480.3,999.7 L1485.8,1001.7 L1489.8,1003.7 L1495.3,1002.4 L1496.6,998.3 L1500.7,1001.0 L1504.7,999.7 L1507.5,997.6 L1511.5,1003.7 L1515.6,1006.4 L1518.3,1011.9 L1522.4,1006.4 L1524.4,1005.1 L1527.8,1011.9 L1530.5,1009.2 L1534.6,1009.2 L1537.3,1014.6 L1541.4,1012.5 L1549.5,1012.5 L1552.2,1006.4 L1554.2,1005.1 L1557.6,1009.2 L1561.7,1012.5 L1568.5,1012.5 L1571.2,1015.3 L1575.3,1012.5 L1595.6,1012.5" fill="none" stroke="#00f" stroke-width="7.4" stroke-linejoin="round" stroke-linecap="butt" shape-rendering="crispEdges"/>
<path d="M1595.6,1012.5 L1596.9,1013.9 L1598.6,1015.2 L1599.7,1016.6 L1601.4,1023.4 L1603.1,1016.6 L1604.8,1023.4 L1606.5,1016.6 L1608.2,1023.4 L1609.9,1016.6 L1611.6,1023.4 L1613.3,1016.6 L1615.0,1023.4 L1616.7,1016.6 L1618.4,1023.4 L1620.1,1016.6 L1621.4,1015.9 L1623.1,1012.8 L1624.8,1015.9 L1626.5,1012.8 L1628.2,1015.9 L1629.9,1012.8 L1631.6,1015.9 L1632.2,1016.6 L1633.9,1016.6 L1635.6,1016.6 L1637.3,1016.6 L1639.0,1016.6 L1640.7,1016.6 L1642.4,1016.6 L1643.1,1027.4 L1644.8,1023.4 L1646.5,1027.4 L1648.2,1023.4 L1649.9,1027.4 L1651.6,1023.4 L1653.3,1027.4 L1655.0,1023.4 L1656.6,1023.4 L1658.3,1022.7 L1660.0,1023.4 L1661.7,1022.7 L1663.4,1023.4 L1665.1,1022.7 L1666.8,1023.4 L1667.5,1016.6 L1669.2,1023.4 L1670.9,1016.6 L1672.6,1023.4 L1674.3,1016.6 L1676.0,1023.4 L1677.7,1016.6 L1678.3,1019.3 L1680.0,1016.6 L1681.7,1019.3 L1683.4,1016.6 L1685.1,1019.3 L1686.8,1016.6 L1688.5,1019.3 L1689.2,1017.3 L1690.9,1023.4 L1692.6,1017.3 L1694.3,1023.4 L1696.0,1017.3 L1697.7,1023.4 L1699.4,1017.3 L1701.1,1023.4 L1700.3,1016.6 L1702.0,1023.4 L1703.7,1016.6 L1705.4,1023.4 L1707.1,1016.6 L1708.8,1023.4 L1709.8,1023.4 L1711.5,1027.4 L1713.2,1023.4 L1714.9,1027.4 L1716.6,1016.6 L1718.3,1016.6 L1720.0,1016.6 L1721.7,1016.6 L1723.4,1016.6 L1725.1,1018.0 L1726.8,1016.6 L1727.5,1023.4 L1729.2,1016.6 L1730.9,1023.4 L1732.6,1016.6 L1734.3,1023.4 L1735.6,1016.6 L1737.3,1016.6 L1738.3,1016.6 L1740.0,1023.4 L1741.7,1016.6 L1743.4,1023.4 L1745.1,1016.6 L1746.8,1023.4 L1748.5,1016.6 L1749.2,1016.3 L1750.9,1016.3 L1752.6,1016.3 L1754.3,1016.3 L1756.0,1016.3 L1757.7,1016.3 L1759.4,1016.3 L1761.1,1016.3 L1762.8,1016.3 L1764.5,1016.3 L1766.2,1016.3 L1767.9,1016.3 L1769.6,1016.3 L1771.3,1016.3 L1773.0,1016.3 L1774.7,1016.3 L1776.4,1016.3 L1778.1,1016.3 L1779.8,1016.3 L1781.5,1016.3 L1783.1,1015.2 L1784.8,1012.6 L1786.5,1015.2 L1788.2,1012.6 L1789.9,1015.2 L1791.6,1012.6 L1793.3,1015.2 L1795.0,1012.6 L1796.7,1015.2 L1798.4,1012.6 L1800.1,1015.2 L1801.8,1012.6 L1803.5,1015.2 L1805.2,1012.6 L1806.9,1015.2 L1808.6,1012.6 L1808.8,1015.2 L1810.5,1014.6 L1811.5,1015.2 L1813.2,1012.6 L1814.9,1015.2 L1816.6,1012.6 L1818.3,1015.2 L1820.0,1012.6 L1821.0,1016.6 L1822.7,1012.6 L1824.4,1016.6 L1826.1,1012.6 L1826.4,1015.2 L1828.1,1012.6 L1829.8,1015.2 L1831.5,1012.6 L1833.2,1015.2 L1834.9,1012.6 L1836.6,1015.2 L1838.3,1012.6 L1840.0,1015.2 L1841.4,1015.6 L1843.1,1015.6 L1844.8,1015.6 L1846.5,1015.6 L1848.1,1012.6 L1849.8,1015.2 L1851.5,1012.6 L1853.2,1015.2 L1854.9,1012.6 L1856.6,1015.2 L1858.3,1012.6 L1860.0,1015.2 L1861.7,1012.6 L1863.4,1015.2 L1865.1,1012.6 L1866.8,1015.2 L1868.5,1012.6 L1870.2,1015.2 L1871.9,1012.6 L1873.6,1015.2 L1875.3,1012.6 L1877.0,1015.2 L1878.7,1012.6 L1880.4,1015.2 L1882.1,1012.6 L1883.8,1015.2 L1885.5,1012.6 L1887.2,1015.2 L1888.9,1012.6 L1890.6,1015.2 L1892.3,1012.6 L1892.9,1016.6 L1894.6,1012.6 L1896.3,1016.6 L1898.0,1012.6 L1898.3,1012.8 L1900.0,1012.6 L1901.7,1012.8 L1903.4,1012.6 L1905.1,1012.8 L1906.8,1012.6 L1908.5,1012.8 L1910.2,1012.6 L1911.9,1012.8 L1913.6,1012.6 L1915.3,1012.8 L1917.0,1012.6 L1918.7,1012.8 L1920.4,1012.6 L1922.1,1012.8 L1923.8,1012.6 L1925.5,1012.8 L1927.2,1012.6 L1928.9,1012.8 L1930.6,1012.6 L1932.3,1012.8 L1934.0,1012.6 L1935.7,1012.8 L1937.4,1012.6 L1939.1,1012.8 L1940.8,1012.6 L1942.5,1012.8 L1944.2,1012.6 L1945.9,1012.8 L1947.1,1008.5 L1948.8,1012.5 L1950.5,1008.5 L1952.2,1012.5 L1953.9,1012.5 L1955.6,1012.5 L1957.3,1012.5 L1959.0,1012.5 L1960.0,1012.5 L1961.7,1012.5 L1963.4,1012.5 L1965.1,1012.5 L1966.8,1012.5 L1968.5,1012.5 L1970.2,1012.5 L1971.9,1012.5 L1973.6,1008.5 L1975.3,1012.5 L1977.0,1008.5 L1978.7,1012.5 L1980.4,1008.5 L1982.1,1012.5 L1983.8,1008.5 L1985.5,1012.5 L1987.2,1008.5 L1988.9,1012.5 L1989.2,1012.5 L1990.9,1012.5 L1992.6,1012.5 L1994.3,1012.5 L1996.0,1012.5 L1997.7,1012.5 L1999.4,1012.5 L2001.1,1012.5 L2002.8,1012.5 L2004.5,1012.5 L2006.2,1012.5 L2007.9,1012.5 L2009.6,1012.5 L2011.3,1012.5 L2013.0,1012.5 L2014.2,1012.5 L2015.9,1008.5 L2017.6,1012.5 L2019.3,1008.5 L2021.0,1012.5 L2022.7,1008.5 L2024.4,1012.5 L2026.1,1008.5 L2027.8,1012.5 L2029.5,1008.5 L2031.2,1012.5 L2032.9,1008.5 L2034.6,1012.5 L2036.3,1008.5 L2038.0,1012.5 L2039.7,1008.5 L2041.4,1012.5 L2043.1,1008.5 L2044.8,1012.5 L2046.5,1008.5 L2048.2,1012.5 L2049.9,1008.5 L2051.6,1012.5 L2053.3,1008.5 L2055.0,1012.5 L2056.7,1008.5 L2058.4,1012.5 L2060.1,1008.5 L2060.3,1012.5 L2062.0,1012.5 L2063.7,1012.5 L2065.4,1012.5 L2067.1,1012.5 L2068.8,1008.5 L2070.5,1012.5 L2072.2,1008.5 L2073.9,1012.5 L2075.6,1008.5 L2077.3,1012.5 L2079.0,1008.5 L2080.7,1012.5 L2082.4,1008.5 L2084.1,1012.5 L2085.8,1008.5 L2086.1,1012.5 L2087.8,1004.4 L2089.5,1012.5 L2091.2,1004.4 L2091.5,1012.5 L2093.2,1008.5 L2094.9,1012.5 L2096.6,1008.5 L2098.3,1012.5 L2100.0,1008.5 L2101.7,1012.5 L2103.4,1008.5 L2105.1,1012.5 L2106.8,1008.5 L2108.5,1012.5 L2110.2,1008.5 L2111.9,1012.5 L2113.6,1008.5 L2115.3,1012.5 L2117.0,1008.5 L2118.7,1012.5 L2120.4,1008.5 L2122.1,1012.5 L2123.8,1008.5 L2125.5,1012.5 L2127.2,1008.5 L2128.9,1012.5 L2130.6,1008.5 L2132.3,1012.5 L2134.0,1008.5 L2135.7,1012.5 L2137.4,1008.5 L2137.6,1012.5 L2139.3,1012.5 L2141.0,1012.5 L2142.7,1012.5 L2144.4,1012.5 L2145.8,1008.5 L2147.5,1012.5 L2149.2,1008.5 L2150.9,1012.5 L2152.6,1008.5 L2154.3,1012.5 L2156.0,1008.5 L2157.7,1012.5 L2159.4,1008.5 L2161.1,1012.5 L2162.8,1008.5 L2164.5,1012.5 L2166.2,1008.5 L2167.9,1012.5 L2169.6,1008.5 L2171.3,1012.5 L2173.0,1008.5 L2174.7,1012.5 L2176.4,1008.5" fill="none" stroke="#00f" stroke-width="6.8" stroke-linejoin="round" stroke-linecap="butt" shape-rendering="crispEdges"/>
<path d="M1599.7,1016.6H1621.4M1643.1,1023.4H1656.6M1689.2,1017.3H1702.7M1749.2,1016.3H1783.1M1783.1,1012.6H1808.8M1826.4,1012.6H1841.4M1848.1,1012.6H1892.9M1898.3,1012.6H1947.1M1960.0,1012.5H1973.6M1973.6,1008.5H1989.2M1989.2,1012.5H2014.2M2014.2,1008.5H2060.3M2067.1,1008.5H2086.1M2091.5,1008.5H2137.6M2145.8,1008.5H2176.9" fill="none" stroke="#00f" stroke-width="6.8" stroke-linecap="butt" shape-rendering="crispEdges"/>
<rect x="1757.5" y="140.5" width="540" height="175" fill="#fff" stroke="#000" stroke-width="1.2" shape-rendering="crispEdges"/>
<line x1="1773" y1="186.4" x2="1857" y2="186.4" stroke="#f00" stroke-width="7.4" shape-rendering="crispEdges"/>
<line x1="1773" y1="269" x2="1857" y2="269" stroke="#00f" stroke-width="7.4" shape-rendering="crispEdges"/>
<text class="b" text-anchor="start" transform="translate(1865.6,211) scale(1.0065,1.04)">Transducer 5</text>
<text class="b" text-anchor="start" transform="translate(1865.6,294) scale(1.0065,1.04)">Transducer 6</text>
<text class="b" text-anchor="start" transform="translate(577.6,70.8) scale(1,1.04)">Readings of Pressure Transducers 5 and 6</text>
<text class="b" text-anchor="middle" transform="translate(1257.6,1389) scale(1.01,1.04)">Time (s)</text>
<text class="b" text-anchor="middle" transform="translate(75,689.2) rotate(-90) scale(1,1.04)">Pressure (bar)</text>
<text class="b" text-anchor="middle" transform="translate(206.5,1326.3) scale(1,1.04)">0</text>
<text class="b" text-anchor="middle" transform="translate(469.6,1326.3) scale(1,1.04)">10</text>
<text class="b" text-anchor="middle" transform="translate(732.8,1326.3) scale(1,1.04)">20</text>
<text class="b" text-anchor="middle" transform="translate(995.9,1326.3) scale(1,1.04)">30</text>
<text class="b" text-anchor="middle" transform="translate(1259.0,1326.3) scale(1,1.04)">40</text>
<text class="b" text-anchor="middle" transform="translate(1522.1,1326.3) scale(1,1.04)">50</text>
<text class="b" text-anchor="middle" transform="translate(1785.2,1326.3) scale(1,1.04)">60</text>
<text class="b" text-anchor="middle" transform="translate(2048.4,1326.3) scale(1,1.04)">70</text>
<text class="b" text-anchor="middle" transform="translate(2311.5,1326.3) scale(1,1.04)">80</text>
<text class="b" text-anchor="end" transform="translate(197.4,1278.3) scale(1,1.04)">0</text>
<text class="b" text-anchor="end" transform="translate(197.4,1090.5) scale(1,1.04)">0.5</text>
<text class="b" text-anchor="end" transform="translate(187.2,902.8) scale(1,1.04)">1</text>
<text class="b" text-anchor="end" transform="translate(197.4,715.0) scale(1,1.04)">1.5</text>
<text class="b" text-anchor="end" transform="translate(197.4,527.3) scale(1,1.04)">2</text>
<text class="b" text-anchor="end" transform="translate(197.4,339.6) scale(1,1.04)">2.5</text>
<text class="b" text-anchor="end" transform="translate(197.4,151.8) scale(1,1.04)">3</text>
<g fill="none" stroke="#000" stroke-width="9.5" shape-rendering="crispEdges">
<rect x="747" y="515.1" width="498" height="150.2"/>
<rect x="1275.1" y="703.8" width="500.2" height="152.7"/>
</g>
<text class="n" text-anchor="start" transform="translate(761.9,572.9) scale(1,1.055)">After PIG reaches</text>
<text class="n" text-anchor="start" transform="translate(761.9,639.3) scale(1,1.055)">Transducer 6</text>
<text class="n" text-anchor="start" transform="translate(1289.7,762) scale(1,1.055)">After PIG reaches</text>
<text class="n" text-anchor="start" transform="translate(1289.7,828.5) scale(1,1.055)">Transducer 5</text>
<line x1="1014" y1="680" x2="1014" y2="815" stroke="#000" stroke-width="6" shape-rendering="crispEdges"/><polygon points="1014,832.5 1002.5,803 1014,808 1025.5,803" fill="#000" stroke="#000" stroke-width="5" stroke-linejoin="round"/>
<line x1="1376.5" y1="869" x2="1376.5" y2="993" stroke="#000" stroke-width="6.8" shape-rendering="crispEdges"/><polygon points="1376.5,1010.5 1365.0,981 1376.5,986 1388.0,981" fill="#000" stroke="#000" stroke-width="5" stroke-linejoin="round"/>
</svg></body></html>
